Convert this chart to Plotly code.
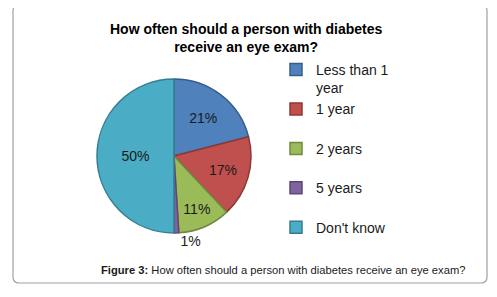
import plotly.graph_objects as go

categories = ["Less than 1<br>year", "1 year<br> ", "2 years<br> ", "5 years<br> ", "Don't know<br> "]
values = [21, 17, 11, 1, 50]
fill_colors = ["#4F81BD", "#C0504D", "#9BBB59", "#8064A2", "#4BACC6"]
edge_colors = ["#385D8A", "#8C3836", "#71893F", "#5C4776", "#357D91"]
text_positions = ["inside", "inside", "inside", "outside", "inside"]

W, H = 497, 297
OFF = 8  # page body margin offset
def px(x): return (x - OFF) / W
def py(y): return 1 - (y - OFF) / H

fig = go.Figure(go.Pie(
    labels=categories,
    values=values,
    sort=False,
    direction="clockwise",
    rotation=0,
    marker=dict(colors=fill_colors, line=dict(color=edge_colors, width=1.5)),
    textinfo="percent",
    texttemplate="%{percent:.0%}",
    textposition=text_positions,
    insidetextorientation="horizontal",
    textfont=dict(family="Liberation Sans, Arial", size=14, color="#1a1a1a"),
    domain=dict(x=[px(174 - 77), px(174 + 77)], y=[py(156 + 77), py(156 - 77)]),
    showlegend=True,
))

# rounded border
x0, x1, y0, y1 = px(13), px(487), py(283), py(5)
rx, ry = 6 / W, 6 / H
path = (f"M {x0+rx},{y0} L {x1-rx},{y0} Q {x1},{y0} {x1},{y0+ry} "
        f"L {x1},{y1-ry} Q {x1},{y1} {x1-rx},{y1} L {x0+rx},{y1} "
        f"Q {x0},{y1} {x0},{y1-ry} L {x0},{y0+ry} Q {x0},{y0} {x0+rx},{y0} Z")

fig.update_layout(
    width=W, height=H,
    margin=dict(l=0, r=0, t=0, b=0),
    paper_bgcolor="white",
    plot_bgcolor="white",
    font=dict(family="Liberation Sans, Arial", color="#1a1a1a"),
    shapes=[dict(type="path", xref="paper", yref="paper", path=path,
                 line=dict(color="#A0A0A0", width=1.2), fillcolor="rgba(0,0,0,0)", layer="below")],
    legend=dict(x=px(276), y=py(54), xanchor="left", yanchor="top",
                font=dict(size=14, family="Liberation Sans, Arial", color="#1a1a1a"),
                valign="top", itemwidth=30, bgcolor="rgba(0,0,0,0)",
                tracegroupgap=0),
    annotations=[
        dict(text="<b>How often should a person with diabetes<br>receive an eye exam?</b>",
             x=px(246), y=py(38), xref="paper", yref="paper", showarrow=False,
             xanchor="center", yanchor="middle",
             font=dict(size=14, family="Liberation Sans, Arial", color="#000"), align="center"),
        dict(text="<b>Figure 3:</b> How often should a person with diabetes receive an eye exam?",
             x=px(283), y=py(270), xref="paper", yref="paper", showarrow=False,
             xanchor="center", yanchor="middle",
             font=dict(size=11.2, family="Liberation Sans, Arial", color="#1a1a1a")),
    ],
)

fig.write_html("out.html")
